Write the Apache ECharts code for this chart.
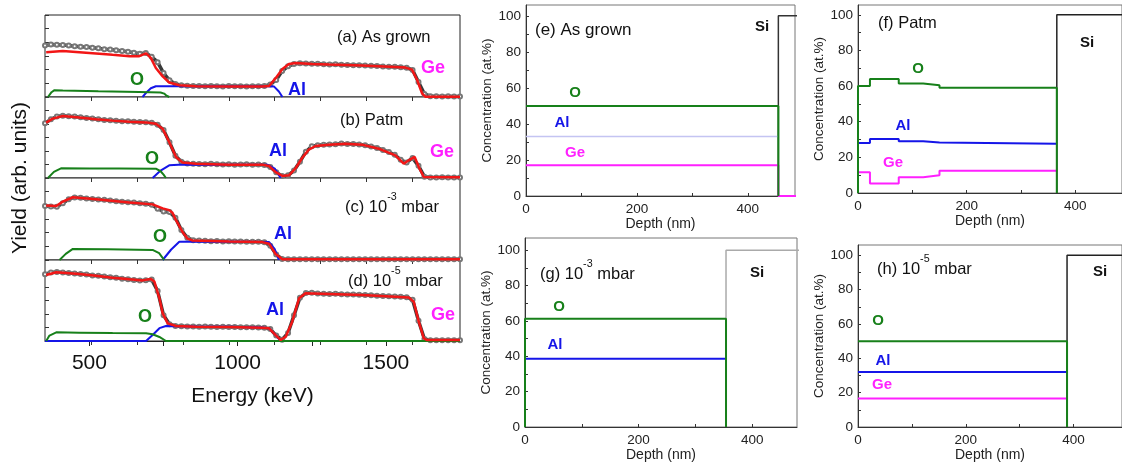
<!DOCTYPE html>
<html>
<head>
<meta charset="utf-8">
<script src="https://cdn.jsdelivr.net/npm/echarts@6/dist/echarts.min.js"></script>
<style>
html,body{margin:0;padding:0;background:#fff}
#chart{width:1122px;height:466px}
</style>
</head>
<body>
<div id="chart"></div>
<script>
// ---------- RBS spectra (left column) ----------
// energy grid of the measured points (keV)
const energyGrid = [350,370,390,410,430,450,470,490,510,530,550,570,590,610,630,650,670,690,710,730,
  750,770,790,810,830,850,870,890,910,930,950,970,990,1010,1030,1050,1070,1090,1110,1130,
  1150,1170,1190,1210,1230,1250,1270,1290,1310,1330,1350,1370,1390,1410,1430,1450,1470,1490,1510,1530,
  1550,1570,1590,1610,1630,1650,1670,1690,1710,1730,1750];

// measured yields (arb. units)
const yieldA = [3.76,3.84,3.82,3.80,3.76,3.72,3.68,3.66,3.60,3.56,3.50,3.47,3.42,3.36,3.31,3.24,3.17,3.22,2.95,2.55,
  1.75,1.22,0.95,0.86,0.82,0.80,0.81,0.78,0.80,0.79,0.77,0.80,0.78,0.79,0.77,0.78,0.79,0.80,0.92,1.25,
  1.90,2.25,2.42,2.47,2.45,2.43,2.44,2.40,2.38,2.39,2.36,2.35,2.33,2.32,2.30,2.29,2.27,2.24,2.22,2.21,
  2.18,2.14,1.98,1.10,0.22,0.06,0.05,0.04,0.05,0.04,0.04];
const yieldB = [4.05,4.35,4.55,4.62,4.58,4.55,4.50,4.44,4.40,4.36,4.30,4.28,4.24,4.21,4.20,4.16,4.15,4.13,4.10,3.95,
  3.55,2.65,1.65,1.20,1.08,1.05,1.04,1.02,1.05,1.01,1.00,1.02,0.99,1.00,1.01,0.99,1.00,0.97,0.82,0.42,
  0.14,0.20,0.55,1.20,1.95,2.35,2.42,2.46,2.48,2.50,2.56,2.52,2.51,2.48,2.42,2.33,2.22,2.08,1.92,1.72,
  1.35,1.15,1.48,0.90,0.10,0.04,0.04,0.05,0.04,0.04,0.04];
const yieldC = [3.95,3.92,3.90,4.15,4.45,4.58,4.55,4.50,4.46,4.42,4.40,4.35,4.30,4.26,4.22,4.20,4.16,4.12,4.05,3.75,
  3.55,3.52,3.10,2.20,1.62,1.45,1.42,1.40,1.38,1.39,1.36,1.37,1.35,1.36,1.34,1.33,1.34,1.30,1.05,0.40,
  0.08,0.05,0.06,0.05,0.05,0.06,0.05,0.05,0.06,0.05,0.05,0.06,0.05,0.05,0.06,0.05,0.05,0.06,0.05,0.05,
  0.06,0.05,0.05,0.06,0.05,0.05,0.06,0.05,0.05,0.06,0.05];
const yieldD = [4.95,5.08,5.12,5.08,5.03,5.00,4.96,4.92,4.86,4.84,4.78,4.72,4.68,4.62,4.58,4.52,4.48,4.50,4.55,3.70,
  1.90,1.25,1.12,1.10,1.08,1.07,1.06,1.08,1.05,1.04,1.06,1.03,1.04,1.02,1.01,1.02,1.00,0.98,0.88,0.40,
  0.10,0.60,1.90,3.20,3.55,3.57,3.52,3.50,3.49,3.50,3.47,3.45,3.44,3.42,3.41,3.39,3.36,3.34,3.31,3.30,
  3.28,3.25,3.05,1.50,0.15,0.06,0.06,0.05,0.06,0.05,0.06];

// simulated spectra [keV, yield]
const fitA = [[354,3.28],[410,3.36],[466,3.28],[522,3.19],[578,3.09],[635,2.99],[668,2.99],[691,3.19],[707,2.86],[724,2.12],
  [747,1.51],[769,1.06],[803,0.86],[859,0.79],[971,0.77],[1083,0.77],[1106,0.81],[1128,1.38],[1151,2.05],[1173,2.42],
  [1196,2.49],[1252,2.42],[1308,2.37],[1420,2.30],[1532,2.20],[1566,2.15],[1588,2.00],[1605,1.26],[1622,0.27],[1633,0.02],[1750,0.02]];
const fitB = [[354,4.10],[376,4.40],[410,4.59],[466,4.49],[522,4.35],[578,4.25],[635,4.17],[691,4.12],[724,4.02],[747,3.65],
  [769,2.67],[792,1.56],[814,1.14],[859,1.06],[971,0.99],[1083,0.99],[1106,0.89],[1128,0.44],[1151,0.15],[1173,0.20],
  [1196,0.74],[1218,1.50],[1240,2.10],[1263,2.37],[1308,2.47],[1364,2.54],[1420,2.47],[1476,2.17],[1532,1.68],[1560,1.06],
  [1577,1.31],[1597,1.56],[1611,0.81],[1628,0.07],[1750,0.05]];
const fitC = [[354,3.98],[388,3.95],[410,4.27],[444,4.59],[522,4.44],[635,4.20],[713,4.07],[747,3.78],[769,3.65],[780,3.46],
  [792,2.91],[814,2.05],[831,1.56],[848,1.43],[971,1.36],[1083,1.31],[1106,1.19],[1128,0.44],[1151,0.05],[1750,0.05]];
const fitD = [[354,4.89],[388,5.09],[410,5.06],[466,4.96],[522,4.84],[578,4.69],[635,4.57],[679,4.49],[707,4.59],[719,4.40],
  [736,3.16],[747,2.05],[764,1.31],[792,1.11],[859,1.06],[971,1.04],[1083,0.99],[1106,0.94],[1128,0.44],[1145,0.07],
  [1162,0.32],[1184,1.43],[1207,3.16],[1229,3.53],[1308,3.48],[1420,3.41],[1532,3.28],[1577,3.23],[1594,2.91],[1611,1.43],
  [1628,0.20],[1639,0.07],[1750,0.07]];

// partial O and Al contributions [keV, yield]
const oxA = [[360,0],[372,0.35],[382,0.50],[410,0.47],[530,0.42],[668,0.37],[740,0.33],[752,0.25],[760,0.10],[769,0]];
const alA = [[679,0],[693,0.35],[707,0.64],[724,0.79],[900,0.79],[1100,0.79],[1123,0.76],[1139,0.40],[1151,0]];
const oxB = [[360,0],[380,0.45],[404,0.72],[500,0.71],[600,0.70],[724,0.69],[740,0.50],[750,0.25],[758,0]];
const alB = [[713,0],[740,0.55],[769,0.94],[800,0.99],[1000,0.99],[1100,0.99],[1125,0.70],[1145,0]];
const oxC = [[399,0],[420,0.45],[444,0.81],[560,0.78],[713,0.74],[735,0.50],[752,0]];
const alC = [[747,0],[775,0.75],[803,1.34],[900,1.36],[1106,1.31],[1125,0.80],[1139,0]];
const oxD = [[354,0],[365,0.40],[388,0.64],[466,0.62],[578,0.59],[691,0.57],[713,0.50],[736,0.30],[758,0],[1750,0]];
const alD = [[350,0],[691,0],[713,0.45],[736,0.95],[758,1.11],[859,1.08],[971,1.05],[1083,1.00],[1106,0.94],[1128,0.44],[1145,0],[1160,0]];

const energyLabels = [500, 1000, 1500];
const energyTicks = [500, 750, 1000, 1250, 1500];
const panelTopTicks = [505, 660, 815, 970, 1125, 1280, 1435, 1590];

// ---------- depth profiles (right column) ----------
// layer boundaries (nm) and concentrations (at.%)
const edgesE = [0, 455];      const oE = [50];   const alE = [33];   const geE = [17];
const edgesF = [0, 22, 75, 120, 150, 366];
const oF  = [60, 64, 61.5, 60.5, 59];
const alF = [28, 30.3, 29, 28.3, 27.6];
const geF = [11.6, 5.3, 8.8, 9.9, 12.5];
const edgesG = [0, 354];      const oG = [61.3]; const alG = [38.7];
const edgesH = [0, 388];      const oH = [50];   const alH = [32];   const geH = [16.6];
const siLevel = 100;

const depthLabels = [0, 200, 400];
const depthTicks = [0, 100, 200, 300, 400];
const concLabels = [0, 20, 40, 60, 80, 100];
const concTicks = [0, 10, 20, 30, 40, 50, 60, 70, 80, 90, 100];

// ---------- styling ----------
const FONT = '"Liberation Sans", Arial, Helvetica, sans-serif';
const C_O = '#17801a', C_AL = '#1515e8', C_GE = '#ff20ff', C_FIT = '#f21616';
const plain = v => String(v);

function steps(edges, vals) {
  const out = [];
  for (let i = 0; i < vals.length; i++) {
    out.push([edges[i], vals[i]]);
    out.push([edges[i + 1], vals[i]]);
  }
  return out;
}

const leftGrids = [
  {left: 45, top: 15, width: 415, height: 82},
  {left: 45, top: 97, width: 415, height: 81},
  {left: 45, top: 178, width: 415, height: 82},
  {left: 45, top: 260, width: 415, height: 81}
];
const rightGrids = [
  {left: 526, top: 5, width: 269, height: 191},
  {left: 858, top: 5, width: 272, height: 188},
  {left: 525, top: 238, width: 272, height: 189},
  {left: 858, top: 245, width: 272, height: 182}
];
const rightRanges = [
  {xmax: 485, ymax: 106},
  {xmax: 486, ymax: 105.5},
  {xmax: 479, ymax: 107},
  {xmax: 490, ymax: 106}
];

const grid = [];
const xAxis = [];
const yAxis = [];
const series = [];

leftGrids.forEach(g => grid.push(Object.assign({show: true, borderColor: '#222', borderWidth: 1, backgroundColor: '#fff'}, g)));
rightGrids.forEach(g => grid.push(Object.assign({show: true, borderColor: '#777', borderWidth: 1, backgroundColor: '#fff'}, g)));

// left column axes
for (let i = 0; i < 4; i++) {
  xAxis.push({
    gridIndex: i, type: 'value', min: 350, max: 1750, position: 'top',
    axisLine: {show: false}, splitLine: {show: false},
    axisLabel: {show: false},
    axisTick: {show: true, inside: true, length: 4, customValues: panelTopTicks, lineStyle: {color: '#333'}}
  });
  yAxis.push({
    gridIndex: i, type: 'value', min: 0, max: 6, interval: 1,
    axisLine: {show: false}, splitLine: {show: false},
    axisLabel: {show: false},
    axisTick: {show: true, inside: true, length: 4, lineStyle: {color: '#333'}}
  });
}
// energy axis under the last spectrum (xAxis index 4)
xAxis.push({
  gridIndex: 3, type: 'value', min: 350, max: 1750, position: 'bottom',
  axisLine: {show: true, lineStyle: {color: '#222'}}, splitLine: {show: false},
  axisTick: {show: true, length: 5, customValues: energyTicks, lineStyle: {color: '#222'}},
  axisLabel: {customValues: energyLabels, formatter: plain, fontSize: 21, color: '#111', fontFamily: FONT, margin: 12},
  name: 'Energy (keV)', nameLocation: 'middle', nameGap: 45,
  nameTextStyle: {fontSize: 21, color: '#111', fontFamily: FONT}
});

// right column axes (xAxis 5..8, yAxis 4..7)
for (let j = 0; j < 4; j++) {
  const gi = 4 + j;
  xAxis.push({
    gridIndex: gi, type: 'value', min: 0, max: rightRanges[j].xmax,
    axisLine: {show: true, lineStyle: {color: '#333'}}, splitLine: {show: false},
    axisTick: {show: true, inside: true, length: 3, customValues: depthTicks, lineStyle: {color: '#333'}},
    axisLabel: {customValues: depthLabels, formatter: plain, fontSize: 13.5, color: '#222', fontFamily: FONT, margin: 6},
    name: 'Depth (nm)', nameLocation: 'middle', nameGap: 19,
    nameTextStyle: {fontSize: 14, color: '#222', fontFamily: FONT}
  });
  yAxis.push({
    gridIndex: gi, type: 'value', min: 0, max: rightRanges[j].ymax,
    axisLine: {show: true, lineStyle: {color: '#333'}}, splitLine: {show: false},
    axisTick: {show: true, inside: true, length: 3, customValues: concTicks, lineStyle: {color: '#333'}},
    axisLabel: {customValues: concLabels, formatter: plain, fontSize: 13.5, color: '#222', fontFamily: FONT, margin: 5},
    name: 'Concentration (at.%)', nameLocation: 'middle', nameGap: 29,
    nameTextStyle: {fontSize: 13.5, color: '#222', fontFamily: FONT}
  });
}

function line(xi, yi, data, color, width, z, extra) {
  return Object.assign({
    type: 'line', xAxisIndex: xi, yAxisIndex: yi, data: data,
    symbol: 'none', silent: true, z: z,
    lineStyle: {color: color, width: width}
  }, extra || {});
}

// spectra
const spectra = [
  {y: yieldA, fit: fitA, ox: oxA, al: alA},
  {y: yieldB, fit: fitB, ox: oxB, al: alB},
  {y: yieldC, fit: fitC, ox: oxC, al: alC},
  {y: yieldD, fit: fitD, ox: oxD, al: alD}
];
spectra.forEach((s, i) => {
  const xi = i === 3 ? 4 : i;
  series.push({
    type: 'line', xAxisIndex: xi, yAxisIndex: i, silent: true, z: 2,
    data: energyGrid.map((e, k) => [e, s.y[k]]),
    symbol: 'emptyCircle', symbolSize: 4,
    lineStyle: {color: '#3a3a3a', width: 3.5},
    itemStyle: {color: '#777', borderWidth: 1}
  });
  series.push(line(xi, i, s.al, C_AL, 2, 3));
  series.push(line(xi, i, s.ox, C_O, 2, 3));
  series.push(line(xi, i, s.fit, C_FIT, 2.5, 5));
});

// depth profiles
function profile(j, edges, o, al, ge, siColor, oLeftEdge, geTail) {
  const xi = 5 + j, yi = 4 + j;
  const end = edges[edges.length - 1];
  const xmax = rightRanges[j].xmax;
  series.push(line(xi, yi, [[end, 0], [end, siLevel], [xmax + 5, siLevel]], siColor, 1.5, 3));
  if (al) series.push(line(xi, yi, steps(edges, al), al === alE ? '#c4c4f2' : C_AL, al === alE ? 1.5 : 2, 4));
  if (ge) {
    const g = steps(edges, ge);
    if (geTail) { g.push([end, 0]); g.push([xmax + 5, 0]); }
    series.push(line(xi, yi, g, C_GE, 2, 4));
  }
  const od = steps(edges, o);
  if (oLeftEdge) od.unshift([0, 0]);
  od.push([end, 0]);
  series.push(line(xi, yi, od, C_O, 2, 5));
}
profile(0, edgesE, oE, alE, geE, '#333', false, true);
profile(1, edgesF, oF, alF, geF, '#222', true, false);
profile(2, edgesG, oG, alG, null, '#aaa', true, false);
profile(3, edgesH, oH, alH, geH, '#222', false, false);

// ---------- text annotations ----------
function txt(x, y, text, color, size, bold, align) {
  return {
    type: 'text', x: x, y: y, silent: true, z: 100,
    style: {
      text: text, fill: color, fontSize: size, fontWeight: bold ? 'bold' : 'normal',
      fontFamily: FONT, align: align || 'center', verticalAlign: 'middle',
      textAlign: align || 'center', textVerticalAlign: 'middle'
    }
  };
}
function supTxt(x, y, pre, sup, post, size) {
  return {
    type: 'text', x: x, y: y, silent: true, z: 100,
    style: {
      text: '{b|' + pre + '}{s|' + sup + '}{b|' + post + '}',
      fill: '#111', fontFamily: FONT, align: 'left', verticalAlign: 'middle',
      textAlign: 'left', textVerticalAlign: 'middle',
      rich: {
        b: {fontSize: size, lineHeight: 24, verticalAlign: 'bottom', fontFamily: FONT, fill: '#111'},
        s: {fontSize: size * 0.65, lineHeight: 12, verticalAlign: 'top', fontFamily: FONT, fill: '#111'}
      }
    }
  };
}

const graphic = [
  {
    type: 'text', x: 20, y: 178, rotation: Math.PI / 2, silent: true, z: 100,
    style: {text: 'Yield (arb. units)', fill: '#111', fontSize: 21, fontFamily: FONT,
      align: 'center', verticalAlign: 'middle', textAlign: 'center', textVerticalAlign: 'middle'}
  },
  // spectrum panel titles
  txt(337, 37, '(a) As grown', '#111', 16.5, false, 'left'),
  txt(340, 120, '(b) Patm', '#111', 16.5, false, 'left'),
  supTxt(345, 204, '(c) 10', '-3', ' mbar', 16.5),
  supTxt(348, 278, '(d) 10', '-5', ' mbar', 16.5),
  // element markers on spectra
  txt(137, 80, 'O', C_O, 18, true), txt(297, 90, 'Al', C_AL, 18, true), txt(433, 68, 'Ge', C_GE, 18, true),
  txt(152, 159, 'O', C_O, 18, true), txt(278, 151, 'Al', C_AL, 18, true), txt(442, 152, 'Ge', C_GE, 18, true),
  txt(160, 237, 'O', C_O, 18, true), txt(283, 234, 'Al', C_AL, 18, true),
  txt(145, 317, 'O', C_O, 18, true), txt(275, 310, 'Al', C_AL, 18, true), txt(443, 315, 'Ge', C_GE, 18, true),
  // depth profile titles
  txt(535, 30, '(e) As grown', '#111', 17, false, 'left'),
  txt(878, 23, '(f) Patm', '#111', 16.5, false, 'left'),
  supTxt(540, 271, '(g) 10', '-3', ' mbar', 16.5),
  supTxt(877, 266, '(h) 10', '-5', ' mbar', 16.5),
  txt(762, 27, 'Si', '#111', 15, true), txt(1087, 43, 'Si', '#111', 15, true),
  txt(757, 273, 'Si', '#111', 15, true), txt(1100, 272, 'Si', '#111', 15, true),
  // element markers on depth profiles
  txt(575, 93, 'O', C_O, 15, true), txt(562, 123, 'Al', C_AL, 15, true), txt(575, 153, 'Ge', C_GE, 15, true),
  txt(918, 69, 'O', C_O, 15, true), txt(903, 126, 'Al', C_AL, 15, true), txt(893, 163, 'Ge', C_GE, 15, true),
  txt(559, 307, 'O', C_O, 15, true), txt(555, 345, 'Al', C_AL, 15, true),
  txt(878, 321, 'O', C_O, 15, true), txt(883, 361, 'Al', C_AL, 15, true), txt(882, 385, 'Ge', C_GE, 15, true)
];

const chart = echarts.init(document.getElementById('chart'), null, {renderer: 'canvas'});
chart.setOption({
  animation: false,
  backgroundColor: '#fff',
  textStyle: {fontFamily: FONT},
  grid: grid,
  xAxis: xAxis,
  yAxis: yAxis,
  series: series,
  graphic: graphic
});
</script>
</body>
</html>
